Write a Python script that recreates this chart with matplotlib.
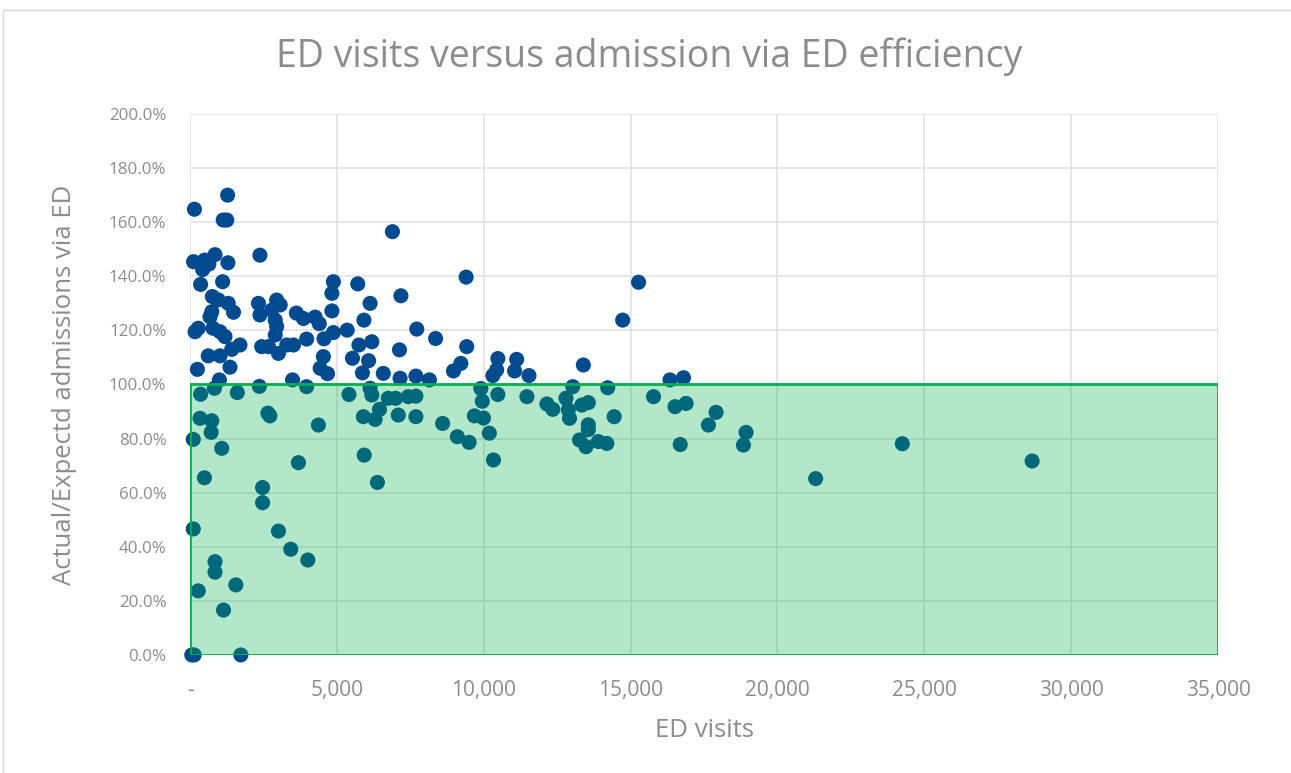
import matplotlib.pyplot as plt
from matplotlib.patches import Rectangle
from matplotlib.ticker import FuncFormatter, MultipleLocator

plt.rcParams['font.family'] = ['Open Sans', 'DejaVu Sans']

# Daten: ED visits und Actual/Expected (in %)
ed_visits = [
    60, 140, 1730, 110, 110, 120, 150, 170, 280, 250,
    360, 360, 340, 280, 490, 500, 430, 640, 850, 1290,
    1280, 1130, 1250, 1110, 760, 960, 1300, 1480, 740, 680,
    780, 1020, 1190, 1420, 1700, 620, 1020, 1360, 1000, 830,
    1610, 2360, 2380, 2330, 2380, 2950, 3070, 2780, 2900, 2950,
    2900, 2440, 2670, 3010, 3290, 3520, 3490, 3970, 3620, 3860,
    4260, 4400, 3970, 4560, 4880, 5350, 4880, 4830, 4830, 5710,
    6130, 5920, 5750, 6190, 5530, 6080, 4540, 4430, 4680, 5870,
    6580, 6890, 7180, 7130, 7720, 8360, 7150, 7690, 8150, 9400,
    9420, 9220, 8970, 10480, 10440, 10310, 11120, 11050, 11540, 13390,
    14730, 15270, 16340, 16800,
    6130, 6190, 5410, 6750, 7000, 7430, 7690, 6450, 5900, 6300,
    7090, 7690, 8600, 9100, 9500, 9900, 9950, 9680, 9990, 10190,
    10330, 10480, 11470, 12150, 12350, 12800, 13030, 12880, 12920, 13340,
    13560, 13560, 13560, 13260, 13480, 13900, 14190, 14220, 14440, 15780,
    16510, 16890, 16690, 17910, 17650, 18930, 18840, 24250, 21300, 28670,
    740, 720, 2650, 2720, 4370, 1080, 3690, 2470, 2470, 3010,
    3430, 4010, 850, 850, 1560, 1140, 6380, 5930,
]
ratio_pct = [
    0, 0, 0, 79.7, 46.6, 145.4, 164.8, 119.5, 120.8, 105.6,
    137, 96.4, 87.5, 23.7, 65.5, 146, 142.5, 144.5, 148, 145,
    170, 160.8, 160.8, 138, 132.5, 131.3, 130, 126.7, 126.9, 125,
    120.8, 119.5, 117.7, 113, 114.6, 110.6, 110.6, 106.4, 101.7, 98.6,
    97, 99.3, 147.8, 130, 125.7, 131.2, 129.4, 127.5, 123.8, 121.4,
    118.3, 114, 114, 111.5, 114.6, 114.6, 101.7, 99.2, 126.4, 124.4,
    124.9, 122.5, 116.8, 116.9, 119.2, 120.1, 138, 133.7, 127.2, 137.2,
    130, 123.8, 114.6, 115.8, 109.7, 108.8, 110.3, 106, 104, 104.3,
    104.1, 156.5, 132.8, 112.8, 120.5, 117, 102.3, 103.1, 101.7, 139.7,
    114, 107.8, 105, 109.6, 105.4, 103.3, 109.3, 105, 103.3, 107.2,
    123.8, 137.8, 101.7, 102.5,
    98.6, 96.1, 96.3, 94.9, 94.9, 95.5, 95.7, 90.8, 88.1, 87.1,
    88.7, 88.1, 85.6, 80.7, 78.6, 98.5, 93.8, 88.4, 87.6, 82,
    72.1, 96.3, 95.5, 92.8, 90.8, 94.9, 99.2, 90.6, 87.5, 92.4,
    93.3, 85.1, 83.3, 79.5, 77, 78.9, 78.2, 98.8, 88.1, 95.5,
    91.8, 93, 77.8, 89.7, 85, 82.3, 77.6, 78.1, 65.2, 71.7,
    86.6, 82.3, 89.4, 88.4, 85, 76.4, 71.1, 61.9, 56.3, 45.8,
    39.1, 35.1, 34.5, 30.6, 25.9, 16.6, 63.8, 73.9,
]

# Zielbereich (Effizienz <= 100%)
ziel_x = [0, 35000]
ziel_y = [0, 100]

grau = '#8C8C8C'

fig = plt.figure(figsize=(12.91, 7.73), dpi=100)
ax = fig.add_axes([0.1472, 0.1527, 0.7963, 0.6998])

ax.scatter(ed_visits, ratio_pct, s=118, color='#004A8F', edgecolors='none',
           zorder=3, clip_on=False)

# gruene Box ueber den Punkten
ax.add_patch(Rectangle((ziel_x[0], ziel_y[0]), ziel_x[1] - ziel_x[0], ziel_y[1] - ziel_y[0],
                       facecolor='#00B050', alpha=0.3, edgecolor='none', zorder=4))
ax.add_patch(Rectangle((ziel_x[0], ziel_y[0]), ziel_x[1] - ziel_x[0], ziel_y[1] - ziel_y[0],
                       facecolor='none', edgecolor='#00B050', linewidth=2, zorder=5))

ax.set_xlim(0, 35000)
ax.set_ylim(0, 200)
ax.xaxis.set_major_locator(MultipleLocator(5000))
ax.yaxis.set_major_locator(MultipleLocator(20))
ax.xaxis.set_major_formatter(FuncFormatter(lambda v, p: '-' if v == 0 else f'{v:,.0f}'))
ax.yaxis.set_major_formatter(FuncFormatter(lambda v, p: f'{v:.1f}%'))

ax.grid(True, color='#E3E3E3', linewidth=1.2, zorder=0)
ax.set_axisbelow(True)
for s in ax.spines.values():
    s.set_visible(False)
ax.tick_params(length=0, labelcolor=grau)
ax.tick_params(axis='x', labelsize=15, pad=18)
ax.tick_params(axis='y', labelsize=12.2, pad=17)

ax.set_xlabel('ED visits', fontsize=18.5, color=grau, labelpad=12)
ax.set_ylabel('Actual/Expectd admissions via ED', fontsize=18.5, color=grau, labelpad=23)
# Titel mittig ueber der ganzen Grafik
fig.suptitle('ED visits versus admission via ED efficiency', fontsize=27, color=grau,
             x=0.503, y=1 - 57 / 773, va='center')

# Rahmen um das Diagramm
fig.add_artist(Rectangle((3 / 1291, -0.01), 1.02, 1 - 10 / 773 + 0.01,
                         transform=fig.transFigure, facecolor='none',
                         edgecolor='#D9D9D9', linewidth=1))

fig.savefig('out.png', dpi=100)
